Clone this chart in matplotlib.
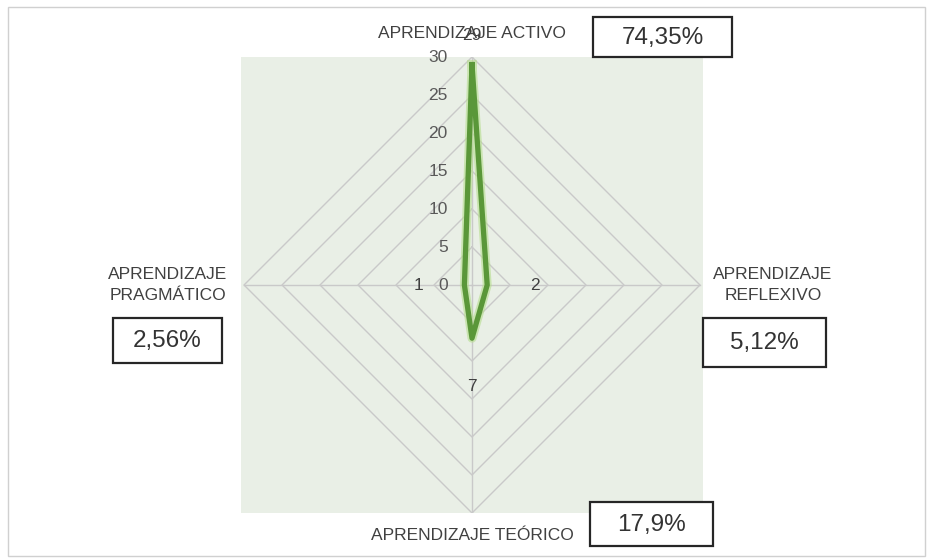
import numpy as np
import matplotlib.pyplot as plt
from matplotlib.patches import Rectangle

plt.rcParams['font.family'] = ['Liberation Sans Narrow', 'Liberation Sans', 'DejaVu Sans']

# data
categories = ['APRENDIZAJE ACTIVO', 'APRENDIZAJE\nREFLEXIVO', 'APRENDIZAJE TEÓRICO', 'APRENDIZAJE\nPRAGMÁTICO']
values = [29, 2, 7, 1]
percents = ['74,35%', '5,12%', '17,9%', '2,56%']
ticks = [0, 5, 10, 15, 20, 25, 30]

W, H = 927, 559
fig = plt.figure(figsize=(W / 100, H / 100), dpi=100)
fig.patch.set_facecolor('white')

def fx(px):
    return px / W

def fy(py):
    return 1 - py / H

# outer chart border
fig.patches.append(Rectangle((fx(8), fy(556)), fx(917), (549) / H, transform=fig.transFigure,
                             fill=False, edgecolor='#d0d0d0', linewidth=1))

# plot area (square, light green)
ax = fig.add_axes([fx(241), fy(513), fx(462), 456 / H])
ax.set_facecolor('#e9efe6')
rmax = 30
ax.set_xlim(-30.4, 30.4)
ax.set_ylim(-30.0, 30.0)
for s in ax.spines.values():
    s.set_visible(False)
ax.set_xticks([])
ax.set_yticks([])

# axis directions: top, right, bottom, left
dirs = np.array([[0, 1], [1, 0], [0, -1], [-1, 0]])

grid_col = '#c9c9c9'
for t in ticks[1:]:
    pts = dirs * t
    pts = np.vstack([pts, pts[:1]])
    ax.plot(pts[:, 0], pts[:, 1], color=grid_col, lw=1, zorder=1)
for d in dirs:
    ax.plot([0, d[0] * rmax], [0, d[1] * rmax], color=grid_col, lw=1, zorder=1)

# tick labels along top spoke
for t in ticks:
    ax.text(-3.2, t, str(t), ha='right', va='center', fontsize=12.5, color='#595959', zorder=3)

# data polygon
pts = dirs * np.array(values)[:, None]
pts = np.vstack([pts, pts[:1]])
ax.plot(pts[:, 0], pts[:, 1], color='#b5dd8c', lw=6.5, alpha=0.6, zorder=4, solid_joinstyle='round')
ax.plot(pts[:, 0], pts[:, 1], color='#5a9739', lw=3.8, zorder=5, solid_joinstyle='round')

# data labels
lbl = dict(ha='center', va='center', fontsize=12.5, color='#404040', zorder=6)
ax.text(0, values[0] + 3.8, str(values[0]), clip_on=False, **lbl)
ax.text(values[1] + 6.3, 0, str(values[1]), **lbl)
ax.text(0, -values[2] - 6.3, str(values[2]), **lbl)
ax.text(-values[3] - 6.1, 0, str(values[3]), **lbl)

# category labels
lab_kw = dict(ha='center', va='center', fontsize=12.5, color='#404040', linespacing=1.45)
fig.text(fx(472), fy(33), categories[0], **lab_kw)
fig.text(fx(773), fy(285), categories[1], **lab_kw)
fig.text(fx(472), fy(535), categories[2], **lab_kw)
fig.text(fx(168), fy(285), categories[3], **lab_kw)

# percentage boxes
box_pos = [(593, 17, 139, 40), (703, 318, 123, 49), (590, 502, 123, 44), (113, 318, 109, 45)]
for (x0, y0, w, h), p in zip(box_pos, percents):
    fig.patches.append(Rectangle((fx(x0), fy(y0 + h)), fx(w), h / H, transform=fig.transFigure,
                                 facecolor='white', edgecolor='#262626', linewidth=1.6))
    fig.text(fx(x0 + w / 2), fy(y0 + h / 2 + 1), p, ha='center', va='center', fontsize=17.5, color='#333333')

fig.savefig('out.png', dpi=100)
